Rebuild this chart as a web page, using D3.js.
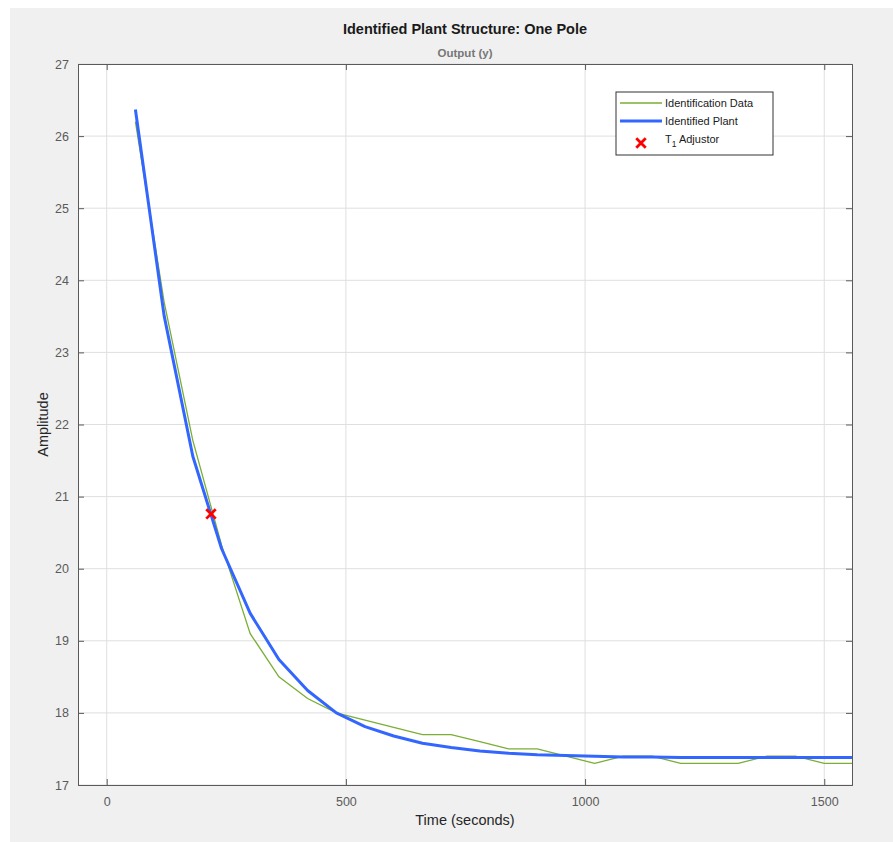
<!DOCTYPE html>
<html>
<head>
<meta charset="utf-8">
<script src="https://cdn.jsdelivr.net/npm/d3@7"></script>
<style>
  body { margin: 0; background: #fff; }
  svg { display: block; font-family: "Liberation Sans", Arial, Helvetica, sans-serif; }
</style>
</head>
<body>
<svg id="chart" width="893" height="842"></svg>
<script>
// identification data (sampled every 60 s)
var dataTime = [60, 120, 180, 240, 300, 360, 420, 480, 540, 600, 660, 720, 780, 840, 900,
    960, 1020, 1080, 1140, 1200, 1260, 1320, 1380, 1440, 1500, 1560];
var dataAmp = [26.2, 23.7, 21.78, 20.33, 19.1, 18.5, 18.2, 18.0, 17.9, 17.8, 17.7, 17.7, 17.6, 17.5, 17.5,
    17.4, 17.3, 17.4, 17.4, 17.3, 17.3, 17.3, 17.4, 17.4, 17.3, 17.3];

// identified plant response
var plantTime = [60, 120, 180, 240, 300, 360, 420, 480, 540, 600, 660, 720, 780, 840, 900,
    960, 1020, 1080, 1140, 1200, 1260, 1320, 1380, 1440, 1500, 1560];
var plantAmp = [26.37, 23.51, 21.56, 20.28, 19.38, 18.74, 18.31, 18.0, 17.81, 17.68, 17.58, 17.52, 17.47, 17.44, 17.42,
    17.41, 17.40, 17.39, 17.39, 17.38, 17.38, 17.38, 17.38, 17.38, 17.38, 17.38];

// T1 adjustor marker
var adjustor = [{t: 218, y: 20.76}];

var xTicks = [0, 500, 1000, 1500];
var yTicks = [17, 18, 19, 20, 21, 22, 23, 24, 25, 26, 27];

var svg = d3.select("#chart");
var margin = {top: 64, left: 78, right: 41, bottom: 57};
var W = 893, H = 842;
var pw = W - margin.left - margin.right;
var ph = H - margin.top - margin.bottom;

// figure background
svg.append("rect").attr("x", 10).attr("y", 8).attr("width", W - 10).attr("height", H - 8).attr("fill", "#f0f0f0");

var x = d3.scaleLinear().domain([-60, 1558]).range([0, pw]);
var y = d3.scaleLinear().domain([17, 27]).range([ph, 0]);

var g = svg.append("g").attr("transform", "translate(" + margin.left + "," + margin.top + ")");

g.append("rect").attr("width", pw).attr("height", ph).attr("fill", "#fff");

// grid
g.append("g").selectAll("line").data(xTicks).join("line")
    .attr("x1", d => x(d)).attr("x2", d => x(d)).attr("y1", 0).attr("y2", ph)
    .attr("stroke", "#dfdfdf").attr("stroke-width", 1);
g.append("g").selectAll("line").data(yTicks).join("line")
    .attr("x1", 0).attr("x2", pw).attr("y1", d => y(d)).attr("y2", d => y(d))
    .attr("stroke", "#dfdfdf").attr("stroke-width", 1);

// lines
var lineGen = d3.line().x(d => x(d[0])).y(d => y(d[1]));
g.append("clipPath").attr("id", "clip").append("rect").attr("width", pw).attr("height", ph);
var plot = g.append("g").attr("clip-path", "url(#clip)");

plot.append("path")
    .datum(d3.zip(dataTime, dataAmp))
    .attr("d", lineGen)
    .attr("fill", "none").attr("stroke", "#7aae34").attr("stroke-width", 1.3);

plot.append("path")
    .datum(d3.zip(plantTime, plantAmp))
    .attr("d", lineGen)
    .attr("fill", "none").attr("stroke", "#3366ff").attr("stroke-width", 3)
    .attr("stroke-linejoin", "round");

// red X
var cross = d3.symbol().type(d3.symbolX).size(60);
plot.selectAll("path.adj").data(adjustor).join("path")
    .attr("class", "adj")
    .attr("d", cross)
    .attr("transform", d => "translate(" + x(d.t) + "," + y(d.y) + ")")
    .attr("fill", "none").attr("stroke", "#ff0000").attr("stroke-width", 2.8);

// axes (inward ticks, box)
var axColor = "#5a5a5a";
g.append("g").attr("transform", "translate(0," + ph + ")")
    .call(d3.axisBottom(x).tickValues(xTicks).tickSize(-6).tickPadding(12).tickFormat(d3.format("d")));
g.append("g")
    .call(d3.axisLeft(y).tickValues(yTicks).tickSize(-6).tickPadding(9).tickFormat(d3.format("d")));
g.append("g")
    .call(d3.axisTop(x).tickValues(xTicks).tickSize(-6).tickFormat(""));
g.append("g").attr("transform", "translate(" + pw + ",0)")
    .call(d3.axisRight(y).tickValues(yTicks).tickSize(-6).tickFormat(""));
g.selectAll(".domain, .tick line").attr("stroke", axColor);
g.selectAll(".tick text").attr("fill", "#5a5a5a").style("font-size", "12.5px");

// titles
svg.append("text").attr("x", margin.left + pw / 2).attr("y", 34)
    .attr("text-anchor", "middle").style("font-size", "14.5px").style("font-weight", "bold").attr("fill", "#1a1a1a")
    .text("Identified Plant Structure: One Pole");
svg.append("text").attr("x", margin.left + pw / 2).attr("y", 57)
    .attr("text-anchor", "middle").style("font-size", "11.5px").style("font-weight", "bold").attr("fill", "#777")
    .text("Output (y)");
svg.append("text").attr("x", margin.left + pw / 2).attr("y", 825)
    .attr("text-anchor", "middle").style("font-size", "14.5px").attr("fill", "#262626")
    .text("Time (seconds)");
svg.append("text").attr("transform", "translate(48," + (margin.top + ph / 2) + ") rotate(-90)")
    .attr("text-anchor", "middle").style("font-size", "14.5px").attr("fill", "#262626")
    .text("Amplitude");

// legend
var legendItems = [
    {label: "Identification Data", type: "line", color: "#7aae34", width: 1.3},
    {label: "Identified Plant", type: "line", color: "#3366ff", width: 3},
    {label: "Adjustor", type: "x", color: "#ff0000"}
];
var lg = svg.append("g").attr("transform", "translate(616,92)");
lg.append("rect").attr("width", 157).attr("height", 63).attr("fill", "#fff").attr("stroke", "#333").attr("stroke-width", 1);
var rows = lg.selectAll("g.row").data(legendItems).join("g")
    .attr("class", "row")
    .attr("transform", (d, i) => "translate(0," + (11 + i * 18) + ")");
rows.filter(d => d.type == "line").append("line")
    .attr("x1", 4).attr("x2", 46).attr("y1", 0).attr("y2", 0)
    .attr("stroke", d => d.color).attr("stroke-width", d => d.width);
rows.filter(d => d.type == "x").append("path")
    .attr("d", cross)
    .attr("transform", "translate(25,4)")
    .attr("fill", "none").attr("stroke", d => d.color).attr("stroke-width", 2.8);
rows.filter(d => d.type == "line").append("text")
    .attr("x", 49).attr("y", 4).style("font-size", "11px").attr("fill", "#1a1a1a")
    .text(d => d.label);
var tx = rows.filter(d => d.type == "x").append("text")
    .attr("x", 49).attr("y", 4).style("font-size", "11px").attr("fill", "#1a1a1a");
tx.append("tspan").text("T");
tx.append("tspan").attr("dy", 4).style("font-size", "8.5px").text("1");
tx.append("tspan").attr("dy", -4).text(d => " " + d.label);
</script>
</body>
</html>
